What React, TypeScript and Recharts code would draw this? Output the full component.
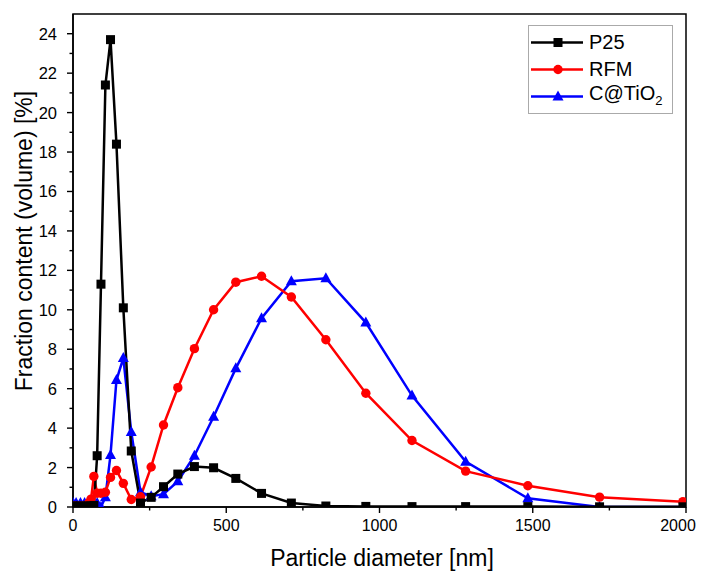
import { LineChart, Line, XAxis, YAxis, ReferenceArea, Legend, Customized } from 'recharts';

// particle size bins [nm] (log spaced, DLS style)
const SIZES = [0.4, 10.1, 24.36, 37.84, 50.75, 58.77, 68.06, 78.82, 91.28, 105.7, 122.4, 141.8, 164.2, 190.1, 220.2, 255.0, 295.3, 342.0, 396.1, 458.7, 531.2, 615.1, 712.4, 825.0, 955.4, 1106, 1281, 1484, 1718, 1990];

// fraction content (volume) [%]
const P25 = [0.05, 0.05, 0.05, 0.05, 0.05, 0.05, 0.08, 2.6, 11.3, 21.4, 23.7, 18.4, 10.1, 2.84, 0.2, 0.49, 1.03, 1.67, 2.05, 1.99, 1.45, 0.69, 0.2, 0.05, 0.03, 0.02, 0.02, 0.02, 0.01, 0.01];
const RFM = [0.05, 0.05, 0.05, 0.05, 0.2, 0.4, 1.55, 0.7, 0.7, 0.75, 1.5, 1.85, 1.2, 0.38, 0.52, 2.03, 4.16, 6.05, 8.03, 10.0, 11.4, 11.7, 10.65, 8.48, 5.77, 3.37, 1.82, 1.08, 0.5, 0.27];
const CTIO2 = [0.2, 0.2, 0.2, 0.2, 0.2, 0.2, 0.2, 0.2, 0.0, 0.5, 2.64, 6.44, 7.55, 3.8, 0.75, 0.55, 0.65, 1.3, 2.6, 4.58, 7.03, 9.57, 11.45, 11.6, 9.35, 5.65, 2.3, 0.44, 0.0, 0.0];

const X_TICKS = [0, 250, 500, 750, 1000, 1250, 1500, 1750, 2000];
const Y_TICKS = [0, 1, 2, 3, 4, 5, 6, 7, 8, 9, 10, 11, 12, 13, 14, 15, 16, 17, 18, 19, 20, 21, 22, 23, 24];

const FONT = '"Liberation Sans", Arial, sans-serif';
const Y_MARGIN = 16;
const X_MARGIN = 12;

const data = SIZES.map((d, i) => ({ d, p25: P25[i], rfm: RFM[i], ctio2: CTIO2[i] }));

function Square({ cx, cy, fill }: any) {
  return <rect x={cx - 4.5} y={cy - 4.5} width={9} height={9} fill={fill} />;
}
function Dot({ cx, cy, fill }: any) {
  return <circle cx={cx} cy={cy} r={4.7} fill={fill} />;
}
function Tri({ cx, cy, fill }: any) {
  return <polygon points={`${cx},${cy - 6} ${cx - 5.5},${cy + 4} ${cx + 5.5},${cy + 4}`} fill={fill} />;
}

const SERIES = [
  { key: 'p25', name: 'P25', color: '#000000', Shape: Square },
  { key: 'rfm', name: 'RFM', color: '#ff0000', Shape: Dot },
  { key: 'ctio2', name: 'C@TiO2', color: '#0000ff', Shape: Tri },
];

function YTick({ x, y, payload }: any) {
  const v = payload.value;
  const major = v % 2 === 0;
  const ax = x + Y_MARGIN;
  return (
    <g>
      <line x1={ax} x2={ax - (major ? 6 : 3.5)} y1={y} y2={y} stroke="#000" strokeWidth={1.4} />
      {major && (
        <text x={x} y={y} dy="0.36em" textAnchor="end" fontSize={16.5} fontFamily={FONT} fill="#000">
          {v}
        </text>
      )}
    </g>
  );
}

function XTick({ x, y, payload }: any) {
  const v = payload.value;
  const major = v % 500 === 0;
  const ay = y - X_MARGIN;
  // last label sits at the right edge of the page; nudge it in so it stays whole
  const dx = v === 2000 ? -8 : 0;
  return (
    <g>
      <line x1={x} x2={x} y1={ay} y2={ay + (major ? 6 : 3.5)} stroke="#000" strokeWidth={1.4} />
      {major && (
        <text x={x + dx} y={y} dy="0.72em" textAnchor="middle" fontSize={16} fontFamily={FONT} fill="#000">
          {v}
        </text>
      )}
    </g>
  );
}

function LegendBox() {
  return (
    <div style={{ border: '1px solid #aaa', background: '#fff', width: 143, padding: '3px 0', fontFamily: FONT }}>
      {SERIES.map(({ key, name, color, Shape }) => (
        <div key={key} style={{ display: 'flex', alignItems: 'center', height: 27 }}>
          <svg width={58} height={27} style={{ marginLeft: 2 }}>
            <line x1={0} x2={52} y1={13.5} y2={13.5} stroke={color} strokeWidth={2.5} />
            <Shape cx={27} cy={13.5} fill={color} />
          </svg>
          <span style={{ fontSize: 20, color: '#000', lineHeight: '27px' }}>
            {name === 'C@TiO2' ? (
              <>
                C@TiO<sub style={{ fontSize: 13 }}>2</sub>
              </>
            ) : (
              name
            )}
          </span>
        </div>
      ))}
    </div>
  );
}

function Titles() {
  return (
    <g fontFamily={FONT} fill="#000">
      <text x={374} y={558} textAnchor="middle" fontSize={23}>
        Particle diameter [nm]
      </text>
      <text x={16} y={233} transform="rotate(-90 16 233)" textAnchor="middle" dominantBaseline="central" fontSize={23}>
        Fraction content (volume) [%]
      </text>
    </g>
  );
}

export default function App() {
  return (
    <>
      <style>{'html, body { overflow: hidden; }'}</style>
      <LineChart width={697} height={565} data={data} margin={{ top: 6, right: 19, left: 0, bottom: 0 }}>
        <XAxis
          type="number"
          dataKey="d"
          domain={[0, 2000]}
          ticks={X_TICKS}
          interval={0}
          allowDataOverflow
          height={66}
          tickSize={0}
          tickMargin={X_MARGIN}
          tickLine={false}
          tick={<XTick />}
          axisLine={{ stroke: '#000', strokeWidth: 1.5 }}
        />
        <YAxis
          type="number"
          domain={[0, 25]}
          ticks={Y_TICKS}
          interval={0}
          allowDataOverflow
          width={65}
          tickSize={0}
          tickMargin={Y_MARGIN}
          tickLine={false}
          tick={<YTick />}
          axisLine={{ stroke: '#000', strokeWidth: 1.5 }}
        />
        <ReferenceArea x1={0} x2={2000} y1={0} y2={25} fill="none" stroke="#000" strokeWidth={1.5} />
        {[...SERIES].reverse().map(({ key, name, color, Shape }) => (
          <Line
            key={key}
            dataKey={key}
            name={name}
            stroke={color}
            strokeWidth={2.5}
            isAnimationActive={false}
            activeDot={false}
            dot={(p: any) => <Shape key={`${key}-${p.index}`} cx={p.cx} cy={p.cy} fill={color} />}
          />
        ))}
        <Legend
          layout="horizontal"
          verticalAlign="middle"
          align="center"
          content={() => <LegendBox />}
          wrapperStyle={{ left: 520, top: 17, width: 145, height: 90 }}
        />
        <Customized component={Titles} />
      </LineChart>
    </>
  );
}
